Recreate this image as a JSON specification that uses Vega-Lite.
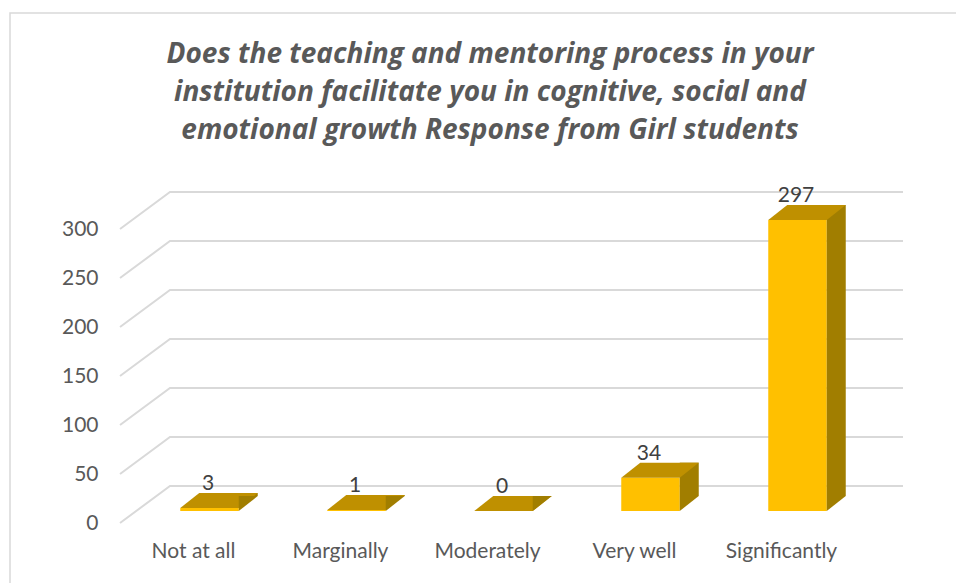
{
  "$schema": "https://vega.github.io/schema/vega-lite/v6.json",
  "width": 735,
  "height": 294,
  "autosize": "none",
  "padding": {"left": 120, "top": 229, "right": 101, "bottom": 60},
  "background": "white",
  "config": {
    "view": {"stroke": null},
    "font": "Lato",
    "axis": {"grid": false, "domain": false, "ticks": false, "tickSize": 0, "title": null, "labelFont": "Lato", "labelFontSize": 21, "labelColor": "#595959"},
    "axisX": {"labelPadding": 17, "labelAngle": 0},
    "axisY": {"labelPadding": 22, "values": [0, 50, 100, 150, 200, 250, 300]}
  },
  "data": {"values": [
    {"response": "Not at all", "count": 3},
    {"response": "Marginally", "count": 1},
    {"response": "Moderately", "count": 0},
    {"response": "Very well", "count": 34},
    {"response": "Significantly", "count": 297}
  ]},
  "layer": [
    {
      "data": {"values": [{"v": 0}, {"v": 50}, {"v": 100}, {"v": 150}, {"v": 200}, {"v": 250}, {"v": 300}]},
      "mark": {"type": "point", "shape": "M-367.5,0L-317.5,-37L415.5,-37", "size": 4, "filled": false, "fill": null, "stroke": "#D9D9D9", "strokeWidth": 2, "opacity": 1},
      "encoding": {"y": {"field": "v", "type": "quantitative", "scale": {"domain": [0, 300]}}}
    },
    {
      "mark": {"type": "bar", "width": 58.5, "xOffset": 16, "yOffset": -12, "y2Offset": -12, "color": "#FFC000"},
      "encoding": {
        "x": {"field": "response", "type": "nominal", "sort": null, "scale": {"paddingInner": 0, "paddingOuter": 0}},
        "y": {"field": "count", "type": "quantitative", "scale": {"domain": [0, 300]}}
      }
    },
    {
      "mark": {"type": "bar", "width": 19, "xOffset": 54.75, "yOffset": -27, "y2Offset": -27, "color": "#A17E00"},
      "encoding": {
        "x": {"field": "response", "type": "nominal", "sort": null},
        "y": {"field": "count", "type": "quantitative"}
      }
    },
    {
      "mark": {"type": "point", "shape": "M-29.25,0L29.25,0L48.25,-15L-10.25,-15Z", "size": 4, "filled": true, "fill": "#BF9000", "strokeWidth": 0, "opacity": 1, "xOffset": 16, "yOffset": -12},
      "encoding": {
        "x": {"field": "response", "type": "nominal", "sort": null},
        "y": {"field": "count", "type": "quantitative"}
      }
    },
    {
      "mark": {"type": "point", "shape": "M29.25,0L29.25,-15L48.25,-15Z", "size": 4, "filled": true, "fill": "#A17E00", "strokeWidth": 0, "opacity": 1, "xOffset": 16, "yOffset": -12},
      "encoding": {
        "x": {"field": "response", "type": "nominal", "sort": null},
        "y": {"datum": 0, "type": "quantitative"}
      }
    },
    {
      "mark": {"type": "text", "font": "Lato", "fontSize": 21, "color": "#404040", "baseline": "alphabetic", "align": "center", "xOffset": 14.5, "yOffset": -30},
      "encoding": {
        "x": {"field": "response", "type": "nominal", "sort": null},
        "y": {"field": "count", "type": "quantitative"},
        "text": {"field": "count", "type": "quantitative"}
      }
    },
    {
      "data": {"values": [{}]},
      "mark": {"type": "point", "shape": "M-477.5,-363H512.5V224H-477.5Z", "size": 4, "filled": false, "fill": null, "stroke": "#D9D9D9", "strokeWidth": 1.5, "opacity": 1},
      "encoding": {}
    },
    {
      "data": {"values": [{}]},
      "mark": {"type": "text", "font": "Open Sans", "fontSize": 28, "fontWeight": "bold", "fontStyle": "italic", "color": "#595959", "align": "center", "baseline": "alphabetic", "lineHeight": 38, "xOffset": 2.5, "yOffset": -313},
      "encoding": {
        "text": {"value": ["Does the teaching and mentoring process in your", "institution facilitate you in cognitive, social and", "emotional growth Response from  Girl students"]}
      }
    }
  ]
}
